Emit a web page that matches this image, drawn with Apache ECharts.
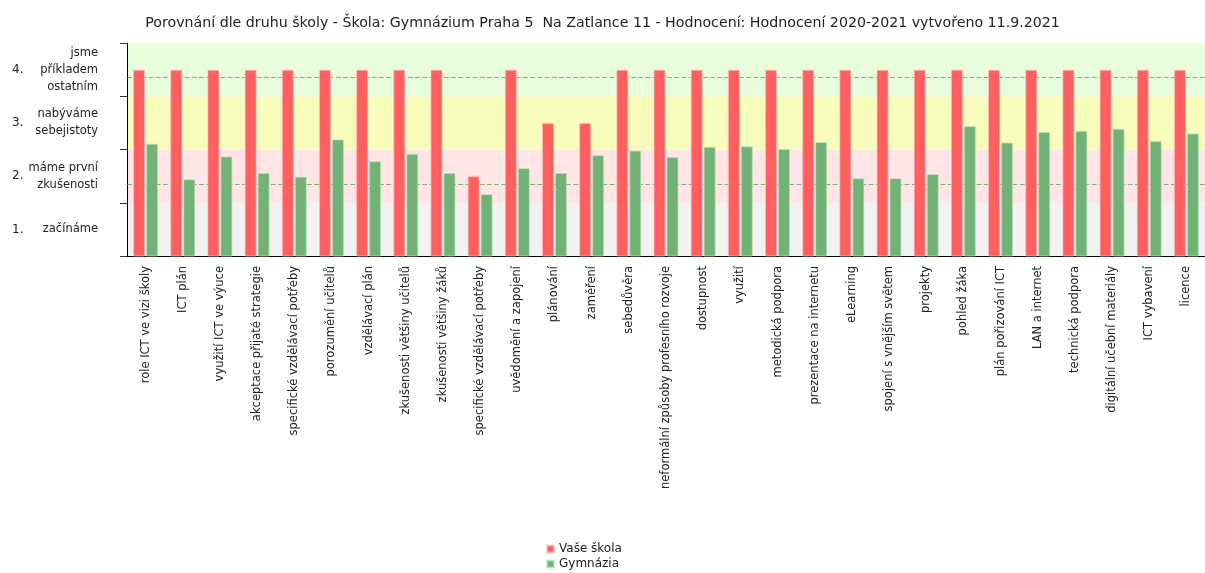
<!DOCTYPE html>
<html>
<head>
<meta charset="utf-8">
<script src="https://cdn.jsdelivr.net/npm/echarts@6/dist/echarts.min.js"></script>
<style>
  html, body { margin: 0; padding: 0; background: #fff; }
  #chart { width: 1205px; height: 573px; }
</style>
</head>
<body>
<div id="chart"></div>
<script>
// oblasti hodnocení
var categories = [
  "role ICT ve vizi školy", "ICT plán", "využití ICT ve výuce", "akceptace přijaté strategie",
  "specifické vzdělávací potřeby", "porozumění učitelů", "vzdělávací plán",
  "zkušenosti většiny učitelů", "zkušenosti většiny žáků", "specifické vzdělávací potřeby",
  "uvědomění a zapojení", "plánování", "zaměření", "sebedůvěra",
  "neformální způsoby profesního rozvoje", "dostupnost", "využití", "metodická podpora",
  "prezentace na internetu", "eLearning", "spojení s vnějším světem", "projekty",
  "pohled žáka", "plán pořizování ICT", "LAN a internet", "technická podpora",
  "digitální učební materiály", "ICT vybavení", "licence"
];
var skolaValues = [4, 4, 4, 4, 4, 4, 4, 4, 4, 2, 4, 3, 3, 4, 4, 4, 4, 4, 4, 4, 4, 4, 4, 4, 4, 4, 4, 4, 4];
var gymnaziaValues = [2.61, 1.94, 2.37, 2.06, 1.99, 2.69, 2.28, 2.42, 2.06, 1.66,
  2.15, 2.06, 2.39, 2.48, 2.36, 2.55, 2.56, 2.51, 2.64, 1.96,
  1.96, 2.04, 2.94, 2.63, 2.83, 2.85, 2.89, 2.66, 2.80];
var gymnaziaRef = 1.84;

// úrovně (odspodu)
var levelNumbers = ["1.", "2.", "3.", "4."];
var levelTexts = ["začínáme", "máme první\nzkušenosti", "nabýváme\nsebejistoty", "jsme\npříkladem\nostatním"];
var levelBands = [[0.5, 1.5, "#f2f2f2"], [1.5, 2.5, "#ffe5e5"], [2.5, 3.5, "#f8fdbb"], [3.5, 4.5, "#e7fddc"]];

var font = "DejaVu Sans";
var chart = echarts.init(document.getElementById("chart"));

// čárkované průměry
var redLine = { color: "#ff4a4a", type: "dashed", dashOffset: 0, width: 1.2, opacity: 0.75 };
var greenLine = { color: "#4f9f4f", type: "dashed", dashOffset: 0, width: 1.2, opacity: 0.75 };

var option = {
  backgroundColor: "#fff",
  animation: false,
  title: {
    text: "Porovnání dle druhu školy - Škola: Gymnázium Praha 5  Na Zatlance 11 - Hodnocení: Hodnocení 2020-2021 vytvořeno 11.9.2021",
    left: "center",
    top: 11,
    textStyle: { fontFamily: font, fontSize: 14.2, fontWeight: "normal", color: "#222" }
  },
  legend: {
    orient: "vertical",
    left: 541,
    top: 538,
    height: 80,
    itemWidth: 7,
    itemHeight: 7,
    itemGap: 3,
    icon: "rect",
    textStyle: { fontFamily: font, fontSize: 12, color: "#222" },
    data: ["Vaše škola", "Gymnázia"]
  },
  grid: { left: 127, right: -11, top: 43, bottom: 317 },
  xAxis: {
    type: "category",
    data: categories,
    axisLine: { lineStyle: { color: "#000" } },
    axisTick: { alignWithLabel: true, length: 5, lineStyle: { color: "#000" } },
    axisLabel: {
      interval: 0, rotate: 90, margin: 10,
      fontFamily: font, fontSize: 11.5, color: "#222"
    },
    splitLine: { show: false }
  },
  yAxis: [
    { type: "value", min: 0.5, max: 4.5, show: false },
    {
      type: "category",
      data: levelTexts,
      position: "left",
      axisLine: { show: true, lineStyle: { color: "#000" } },
      axisTick: { show: true, length: 7, lineStyle: { color: "#333" } },
      axisLabel: { margin: 29, fontFamily: font, fontSize: 11.5, lineHeight: 17, color: "#222" },
      splitLine: { show: false }
    },
    {
      type: "category",
      data: levelNumbers,
      position: "left",
      axisLine: { show: false },
      axisTick: { show: false },
      axisLabel: { margin: 115, align: "left", fontFamily: font, fontSize: 12, color: "#222" },
      splitLine: { show: false }
    }
  ],
  series: [
    {
      name: "Vaše škola",
      type: "bar",
      yAxisIndex: 0,
      data: skolaValues,
      barWidth: 12,
      barGap: "8%",
      z: 2,
      itemStyle: { color: "#ff5f5f", borderColor: "rgba(255,190,190,0.7)", borderWidth: 1 },
      markArea: {
        z: 0,
        silent: true,
        data: levelBands.map(function (b) {
          return [{ yAxis: b[0], itemStyle: { color: b[2], opacity: 1 } }, { yAxis: b[1] }];
        })
      },
      markLine: {
        z: 1,
        silent: true,
        symbol: "none",
        label: { show: false },
        lineStyle: redLine,
        data: [{ type: "average", lineStyle: redLine }]
      }
    },
    {
      name: "Gymnázia",
      type: "bar",
      yAxisIndex: 0,
      data: gymnaziaValues,
      barWidth: 12,
      barGap: "8%",
      z: 2,
      itemStyle: { color: "#72b277", borderColor: "rgba(190,225,190,0.7)", borderWidth: 1 },
      markLine: {
        z: 1,
        silent: true,
        symbol: "none",
        label: { show: false },
        lineStyle: greenLine,
        data: [{ yAxis: gymnaziaRef, lineStyle: greenLine }]
      }
    }
  ]
};
chart.setOption(option);
</script>
</body>
</html>
